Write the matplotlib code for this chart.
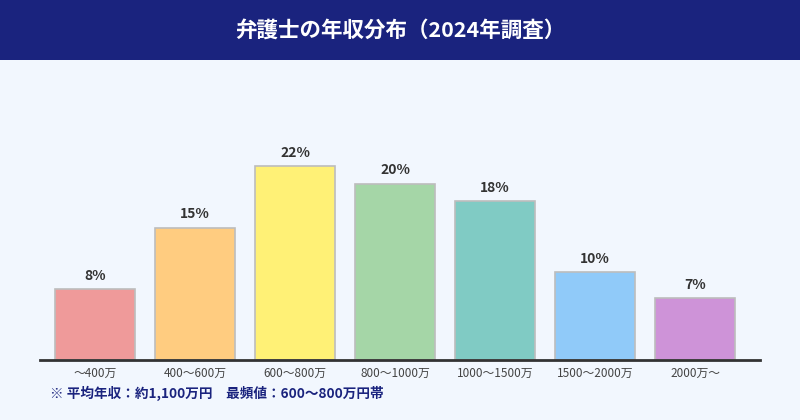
import matplotlib.pyplot as plt
from matplotlib.patches import Rectangle

plt.rcParams['font.family'] = ['Noto Sans CJK JP', 'DejaVu Sans']

# data
categories = ['～400万', '400～600万', '600～800万', '800～1000万',
              '1000～1500万', '1500～2000万', '2000万～']
shares = [8, 15, 22, 20, 18, 10, 7]
colors = ['#ef9a9a', '#ffcc80', '#fff176', '#a5d6a7',
          '#80cbc4', '#90caf9', '#ce93d8']

W, H = 800, 420
fig = plt.figure(figsize=(8, 4.2), dpi=100)
fig.patch.set_facecolor('#f2f7fe')

# header band
fig.patches.append(Rectangle((0, 1 - 60 / H), 1, 60 / H, transform=fig.transFigure,
                             facecolor='#1a237e', edgecolor='none', zorder=0))
fig.text(0.5, 1 - 30 / H, '弁護士の年収分布（2024年調査）', ha='center', va='center',
         color='white', fontsize=15.5, fontweight='bold')

# axes: x 40..760, y 80..360 px
ax = fig.add_axes([40 / W, 1 - 360 / H, 720 / W, 280 / H])
ax.set_facecolor('none')
x = list(range(len(categories)))
ax.bar(x, shares, width=0.8, color=colors, edgecolor='#bdbdbd', linewidth=1.2)
for xi, v in zip(x, shares):
    ax.annotate(f'{v}%', (xi, v), xytext=(0, 4.5), textcoords='offset points',
                ha='center', va='bottom', fontsize=10, fontweight='bold', color='#333333')

ax.set_xlim(-0.55, 6.65)
ax.set_ylim(0, 31.75)
ax.set_yticks([])
ax.set_xticks(x)
ax.set_xticklabels(categories, fontsize=8.5, color='#444444')
ax.tick_params(axis='x', length=0, pad=5)
for s in ['top', 'right', 'left']:
    ax.spines[s].set_visible(False)
ax.spines['bottom'].set_color('#333333')
ax.spines['bottom'].set_linewidth(2)

fig.text(50 / W, 1 - 393 / H, '※ 平均年収：約1,100万円　最頻値：600～800万円帯',
         ha='left', va='center', fontsize=9.8, fontweight='bold', color='#1a237e')

fig.savefig('out.png', dpi=100, facecolor=fig.get_facecolor())
